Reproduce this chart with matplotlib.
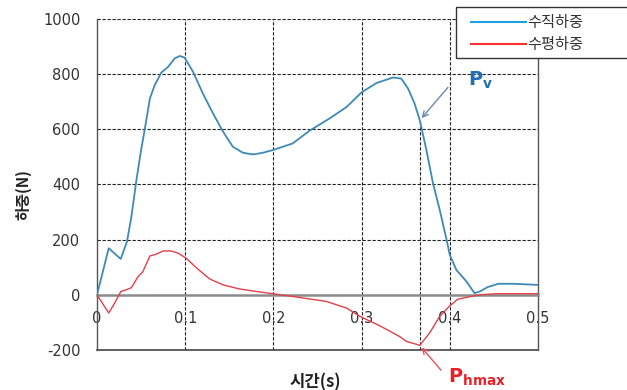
import numpy as np
import matplotlib.pyplot as plt
from matplotlib.lines import Line2D
from matplotlib.patches import Rectangle

plt.rcParams['axes.unicode_minus'] = False

# vertical load (수직하중)
t_v = [0, 0.0133, 0.0269, 0.034, 0.039, 0.0447, 0.050, 0.054, 0.060, 0.0654,
       0.073, 0.0805, 0.088, 0.0938, 0.0994, 0.109, 0.120, 0.1315, 0.143, 0.154,
       0.1655, 0.177, 0.188, 0.1995, 0.222, 0.241, 0.264, 0.283, 0.300, 0.317,
       0.3356, 0.345, 0.3527, 0.360, 0.366, 0.3735, 0.381, 0.3886, 0.396, 0.400,
       0.4075, 0.419, 0.428, 0.434, 0.443, 0.455, 0.472, 0.500]
p_v = [0, 169, 130, 193, 283, 416, 525, 597, 712, 760,
       806, 826, 857, 866, 860, 808, 730, 658, 591, 537,
       515, 509, 515, 525, 549, 595, 640, 681, 734, 768,
       788, 784, 748, 694, 633, 525, 404, 308, 205, 145,
       90, 48, 6, 12, 28, 40, 40, 36]

# horizontal load (수평하중)
t_h = [0, 0.0133, 0.020, 0.027, 0.033, 0.039, 0.0465, 0.052, 0.060, 0.067,
       0.075, 0.084, 0.092, 0.101, 0.113, 0.128, 0.143, 0.162, 0.181, 0.1995,
       0.222, 0.260, 0.283, 0.298, 0.3205, 0.343, 0.351, 0.366, 0.377, 0.3886,
       0.400, 0.409, 0.424, 0.434, 0.453, 0.500]
p_h = [0, -66, -30, 12, 18, 26, 66, 84, 141, 147,
       159, 159, 151, 133, 97, 57, 36, 21, 12, 4,
       -6, -24, -48, -78, -112, -151, -169, -183, -139, -78,
       -40, -16, -6, 0, 4, 4]

series_names = ["수직하중", "수평하중"]
x_ticks = [0, 0.1, 0.2, 0.3, 0.4, 0.5]
x_labels = ["0", "0.1", "0.2", "0.3", "0.4", "0.5"]
y_ticks = [-200, 0, 200, 400, 600, 800, 1000]

# marked instant
t_mark = 0.366
pv_mark = 633
ph_mark = -183

kr = ['Noto Sans CJK KR', 'DejaVu Sans']
grid_kw = dict(color='#222222', lw=0.8, linestyle=(0, (3, 1.5)), zorder=1)

fig = plt.figure(figsize=(6.27, 3.9), dpi=100)
ax = fig.add_axes([0.1547, 0.1026, 0.7033, 0.8487])

ax.set_xlim(0, 0.5)
ax.set_ylim(-200, 1000)

for y in y_ticks[2:]:
    ax.axhline(y, **grid_kw)
for x in x_ticks[1:-1]:
    ax.axvline(x, **grid_kw)
ax.vlines(t_mark, -200, pv_mark, **grid_kw)

ax.plot(t_v, p_v, color='#3d8ab8', lw=1.3, zorder=3)
ax.plot(t_h, p_h, color='#e0404a', lw=1.0, zorder=3)

# axes styling: x axis at y=0, frame below
ax.spines['top'].set_visible(False)
ax.spines['bottom'].set_position(('data', 0))
ax.spines['bottom'].set_color('#8a8a8a')
ax.spines['bottom'].set_linewidth(1.8)
for s in ['left', 'right']:
    ax.spines[s].set_color('#555555')
    ax.spines[s].set_linewidth(1.0)
ax.axhline(-200, color='#444444', lw=1.2, clip_on=False, zorder=2)

ax.set_xticks(x_ticks)
ax.set_xticklabels(x_labels)
ax.set_yticks(y_ticks)
ax.tick_params(axis='x', length=0, pad=12, labelsize=10.5, labelcolor='#333333')
ax.tick_params(axis='y', length=0, pad=12, labelsize=10.5, labelcolor='#333333')

# annotations
ax.annotate('', xy=(t_mark, pv_mark), xytext=(30, 35), textcoords='offset pixels',
            arrowprops=dict(arrowstyle='->', color='#6a88b0', lw=1.0))
ax.annotate(r'$\mathbf{P}_\mathbf{v}$', xy=(t_mark, pv_mark), xytext=(48, 40),
            textcoords='offset pixels', ha='left', va='center',
            fontsize=14, color='#1f6fb5', annotation_clip=False)
ax.annotate('', xy=(t_mark, ph_mark), xytext=(23, -27), textcoords='offset pixels',
            arrowprops=dict(arrowstyle='->', color='#e05060', lw=1.0),
            annotation_clip=False)
ax.annotate(r'$\mathbf{P}_\mathbf{hmax}$', xy=(t_mark, ph_mark), xytext=(28, -32),
            textcoords='offset pixels', ha='left', va='center',
            fontsize=14, color='#e8202a', annotation_clip=False)

# axis labels
fig.text(23 / 627, 1 - 195 / 390, '하중(N)', rotation=90, ha='center', va='center',
         fontsize=11, fontweight='bold', color='#222222', family=kr)
fig.text(315 / 627, 1 - 382 / 390, '시간(s)', ha='center', va='center',
         fontsize=12, fontweight='bold', color='#222222', family=kr)

# legend box (runs off the right edge)
box = Rectangle((456 / 627, 1 - 58 / 390), 0.3, 51 / 390, transform=fig.transFigure,
                facecolor='white', edgecolor='#333333', lw=1.0, zorder=5)
fig.add_artist(box)
handles = [Line2D([], [], color='#1ea0e0', lw=1.5), Line2D([], [], color='#ff3030', lw=1.5)]
leg = fig.legend(handles, series_names, loc='upper left',
                 bbox_to_anchor=(471 / 627, 1 - 14 / 390), frameon=False,
                 borderpad=0, borderaxespad=0, handlelength=3.6, handletextpad=0.05,
                 labelspacing=0.35, prop={'family': kr, 'size': 11})
leg.set_zorder(6)
for txt in leg.get_texts():
    txt.set_color('#333333')

fig.savefig('out.png', dpi=100)
